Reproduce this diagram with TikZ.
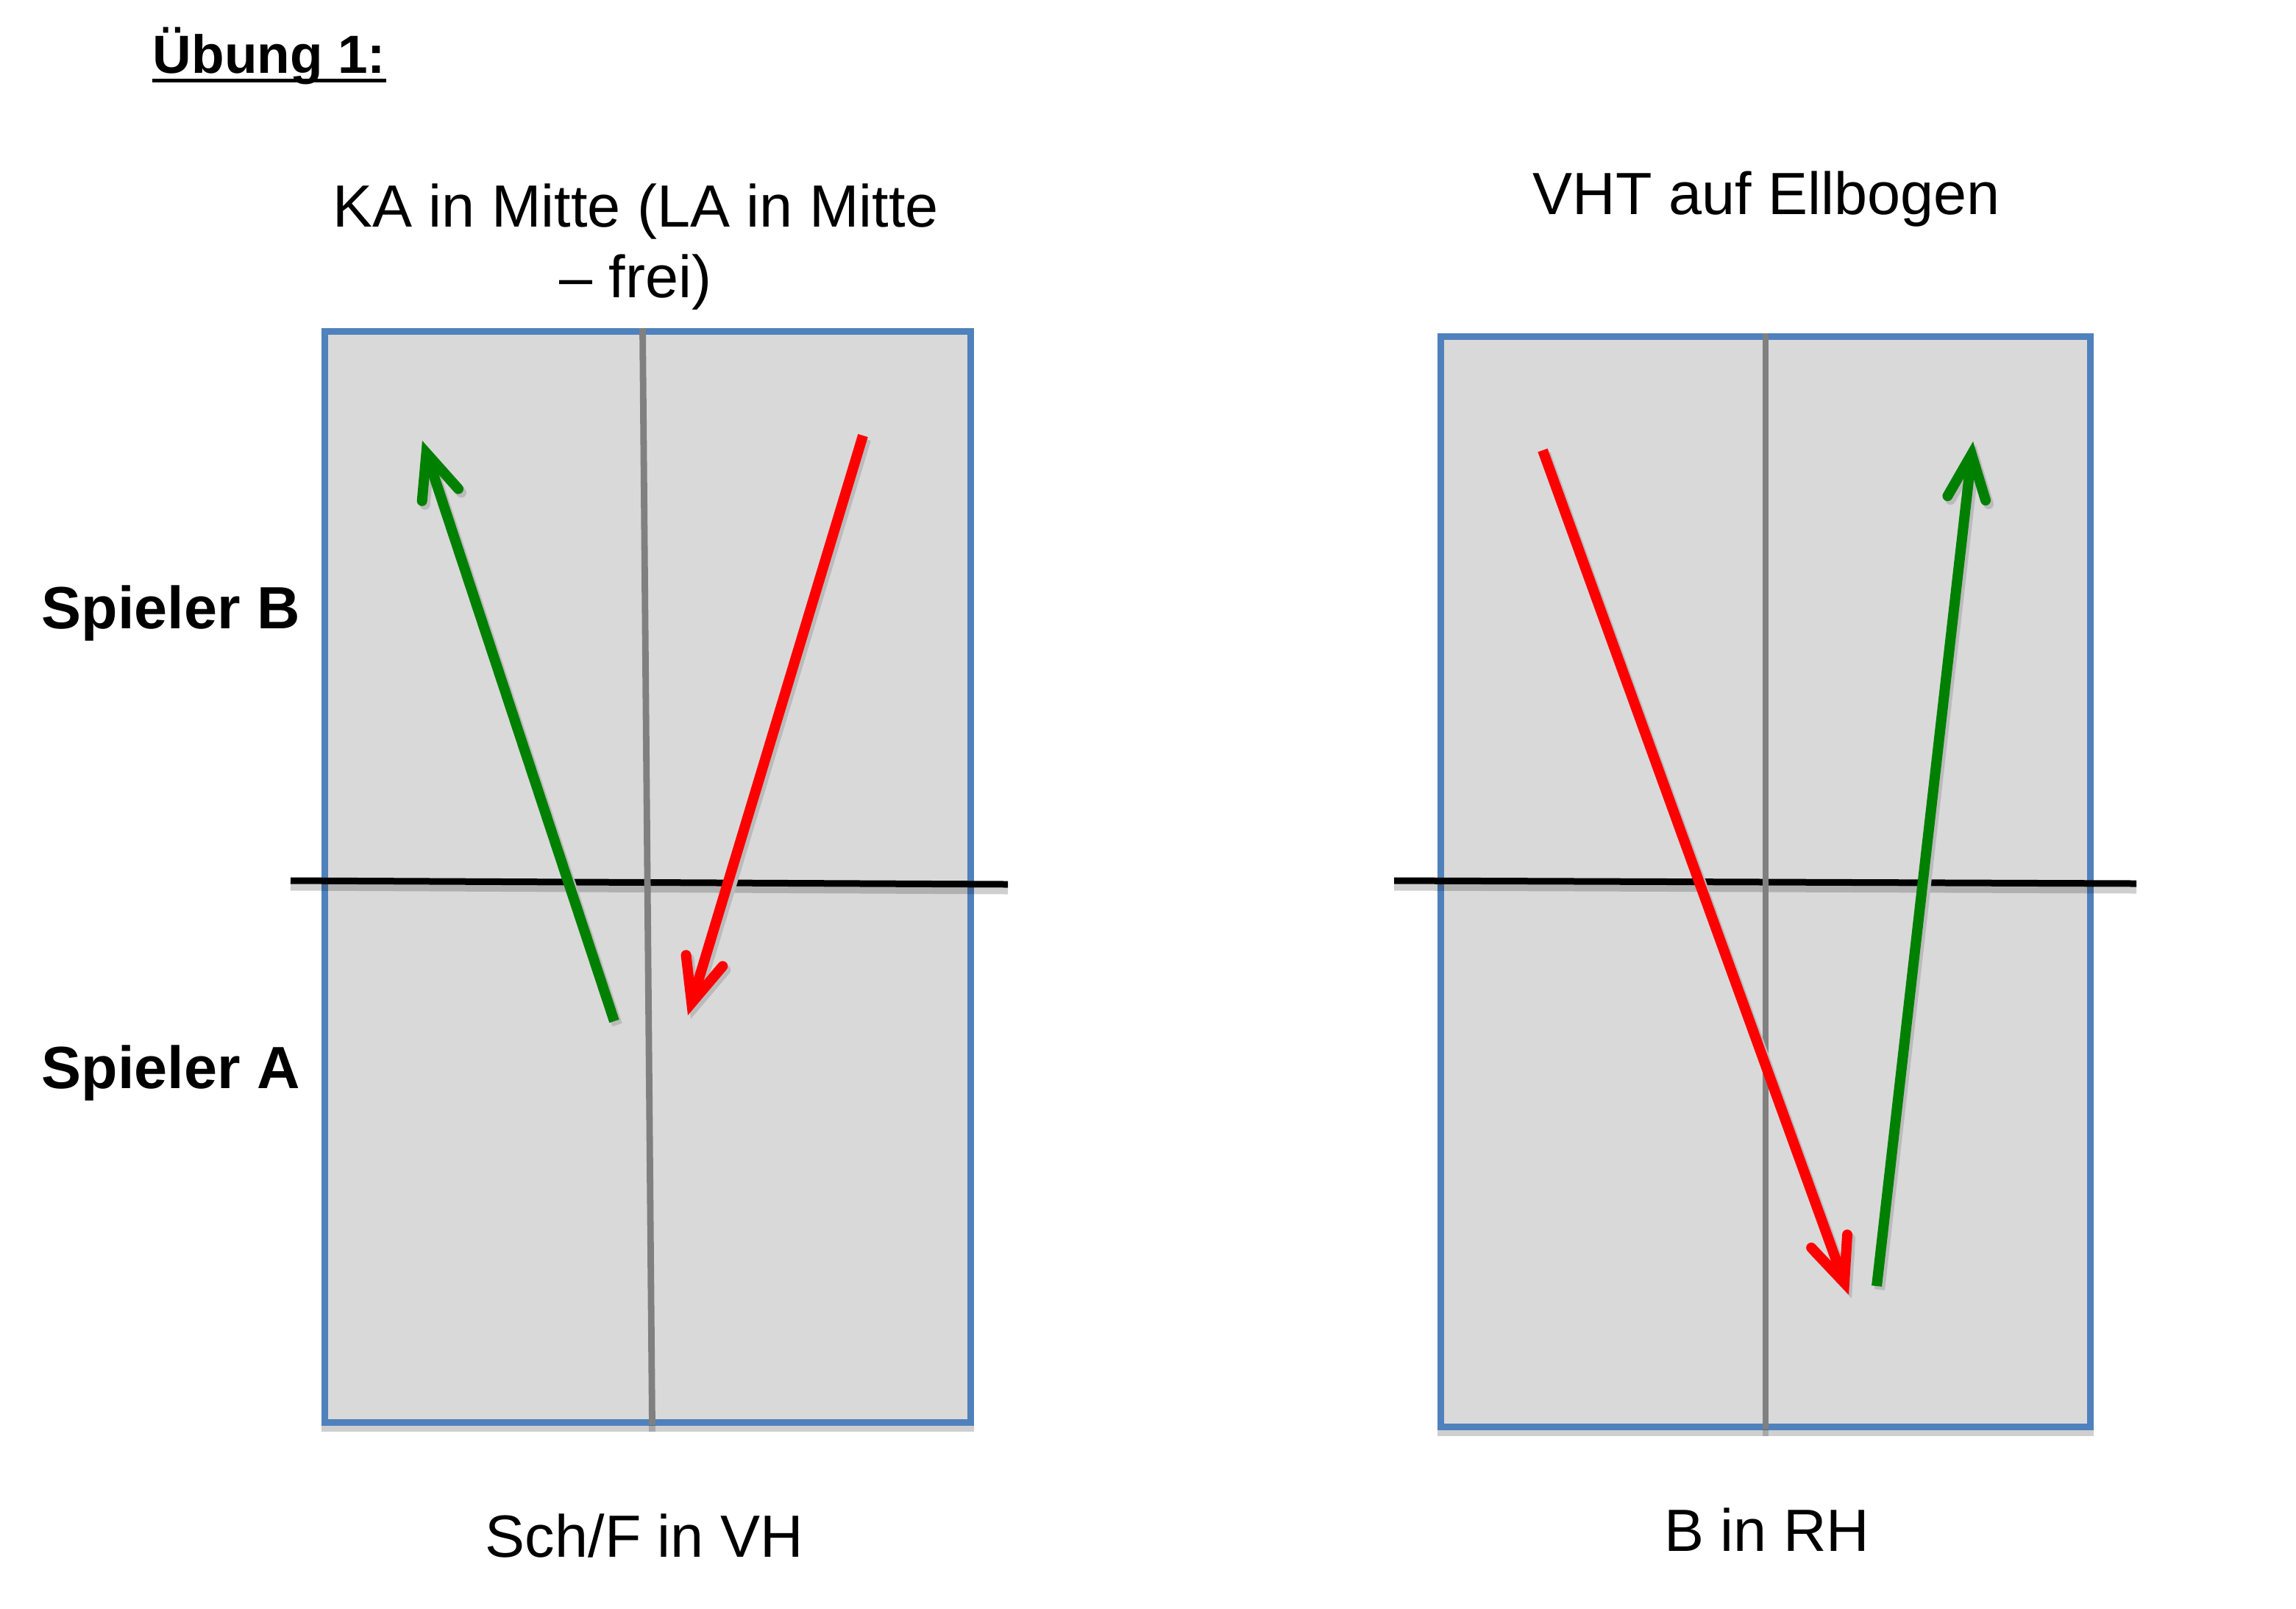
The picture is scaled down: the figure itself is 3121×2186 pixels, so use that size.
\documentclass[tikz,border=0pt]{standalone}
\usepackage{fontspec}
\setmainfont{Liberation Sans}
\usetikzlibrary{arrows.meta}
\definecolor{tablefill}{HTML}{D9D9D9}
\definecolor{tableborder}{HTML}{4F81BD}
\definecolor{midline}{HTML}{808080}
\definecolor{ballgreen}{HTML}{008000}
\definecolor{ballred}{HTML}{FF0000}
\definecolor{arrowshade}{HTML}{BBBBBB}
\begin{document}
\begin{tikzpicture}[x=0.25pt,y=-0.25pt,
  tablebox/.style={fill=tablefill, draw=tableborder, line width=2.25pt},
  tableshadow/.style={fill=black, fill opacity=0.19, draw=none},
  midstroke/.style={draw=midline, line width=2.2pt},
  midshadow/.style={draw=black, opacity=0.19, line width=2.2pt},
  netstroke/.style={draw=black, line width=2.25pt},
  netshadow/.style={draw=black, opacity=0.19, line width=2.25pt},
  ballpath/.style={line width=3.5pt, -{Straight Barb[length=15pt,width=13pt,line cap=round,line join=miter]}},
  shadepath/.style={ballpath, draw=arrowshade},
  txt/.style={inner sep=0pt, anchor=base, font=\fontsize{20.25pt}{24pt}\selectfont},
  sidetxt/.style={inner sep=0pt, anchor=base west, font=\fontsize{20.25pt}{24pt}\selectfont\bfseries},
]
\useasboundingbox (0,0) rectangle (3121,2186);

% ---------- coordinates ----------
\coordinate (L-nw) at (441.5,450);
\coordinate (L-se) at (1319.5,1933);
\coordinate (L-mt) at (873.5,446);
\coordinate (L-mb) at (886.5,1937);
\coordinate (L-nw1) at (395,1197);
\coordinate (L-ne1) at (1370,1202);

\coordinate (R-nw) at (1958,457);
\coordinate (R-se) at (2841.5,1939);
\coordinate (R-mt) at (2400,453);
\coordinate (R-mb) at (2400,1943);
\coordinate (R-nw1) at (1895,1197);
\coordinate (R-ne1) at (2904,1201);

\coordinate (gL-tail) at (835,1388);
\coordinate (gL-tip) at (574,599);
\coordinate (rL-tail) at (1173,592);
\coordinate (rL-tip) at (935,1380);
\coordinate (rR-tail) at (2097,612);
\coordinate (rR-tip) at (2513,1760);
\coordinate (gR-tail) at (2551,1748);
\coordinate (gR-tip) at (2682,600);

% ---------- tables ----------
\fill[tableshadow] ([shift={(-4.5,0)}]L-nw) rectangle ([shift={(4.5,13)}]L-se);
\draw[tablebox] (L-nw) rectangle (L-se);
\fill[tableshadow] ([shift={(-4.5,0)}]R-nw) rectangle ([shift={(4.5,13)}]R-se);
\draw[tablebox] (R-nw) rectangle (R-se);

% ---------- nets ----------
\draw[netshadow] ([shift={(0,9)}]L-nw1) -- ([shift={(0,9)}]L-ne1);
\draw[netstroke] (L-nw1) -- (L-ne1);
\draw[netshadow] ([shift={(0,9)}]R-nw1) -- ([shift={(0,9)}]R-ne1);
\draw[netstroke] (R-nw1) -- (R-ne1);

% ---------- middle lines ----------
\draw[midshadow] ([shift={(0,9)}]L-mb) -- (L-mb);
\draw[midstroke] (L-mt) -- (L-mb);
\draw[midshadow] ([shift={(0,9)}]R-mb) -- (R-mb);
\draw[midstroke] (R-mt) -- (R-mb);

% ---------- ball paths ----------
\draw[shadepath] ([shift={(4,5)}]gL-tail) -- ([shift={(4,5)}]gL-tip);
\draw[shadepath] ([shift={(4,5)}]rL-tail) -- ([shift={(4,5)}]rL-tip);
\draw[shadepath] ([shift={(4,5)}]rR-tail) -- ([shift={(4,5)}]rR-tip);
\draw[shadepath] ([shift={(4,5)}]gR-tail) -- ([shift={(4,5)}]gR-tip);
\draw[ballpath, draw=ballgreen] (gL-tail) -- (gL-tip);
\draw[ballpath, draw=ballred] (rL-tail) -- (rL-tip);
\draw[ballpath, draw=ballred] (rR-tail) -- (rR-tip);
\draw[ballpath, draw=ballgreen] (gR-tail) -- (gR-tip);

% ---------- texts ----------
\node[txt, anchor=base west, font=\fontsize{18.25pt}{22pt}\selectfont\bfseries] (title) at (207,99) {Übung 1:};
\draw[line width=1.3pt] ([yshift=-2.6pt]title.base west) -- ([yshift=-2.6pt]title.base east);
\node[txt] (ka1) at (864,308) {KA in Mitte (LA in Mitte};
\node[txt] (ka2) at (864,404) {– frei)};
\node[txt] (vht) at (2401,291) {VHT auf Ellbogen};
\node[sidetxt] (spB) at (56,854) {Spieler B};
\node[sidetxt] (spA) at (56,1479) {Spieler A};
\node[txt] (schf) at (876,2116) {Sch/F in VH};
\node[txt] (binrh) at (2402,2108) {B in RH};
\end{tikzpicture}
\end{document}
